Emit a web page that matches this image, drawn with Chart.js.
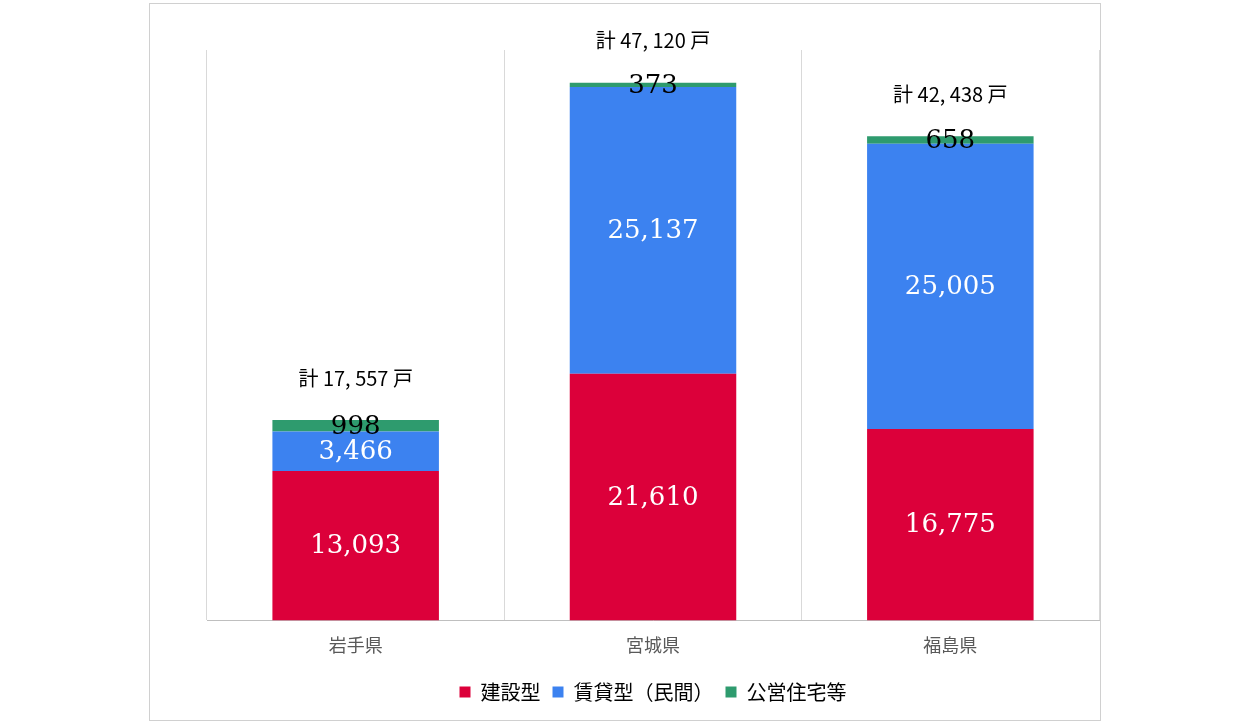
<!DOCTYPE html>
<html><head><meta charset="utf-8">
<script src="https://cdn.jsdelivr.net/npm/chart.js@4"></script>
<style>
body{margin:0;background:#fff;}
#box{position:absolute;left:149px;top:3px;width:950px;height:716px;border:1px solid #d0d0d0;}
</style></head><body>
<div id="box"><canvas id="c"></canvas></div>
<script>
const prefectures = ["岩手県", "宮城県", "福島県"];
const seriesNames = ["建設型", "賃貸型（民間）", "公営住宅等"];
const kensetsu = [13093, 21610, 16775];
const chintai = [3466, 25137, 25005];
const kouei = [998, 373, 658];
const totals = [17557, 47120, 42438];
const colors = ["#DC003A", "#3C82F0", "#2E9B6E"];

const fmt = v => v.toLocaleString("en-US");

const labelPlugin = {
  id: "labels",
  afterDatasetsDraw(chart) {
    const ctx = chart.ctx;
    ctx.save();
    ctx.textAlign = "center";
    ctx.textBaseline = "middle";
    chart.data.datasets.forEach((ds, i) => {
      chart.getDatasetMeta(i).data.forEach((bar, j) => {
        const y = (bar.y + bar.base) / 2;
        ctx.font = "26px 'DejaVu Serif', serif";
        ctx.fillStyle = i === 2 ? "#000" : "#fff";
        ctx.fillText(fmt(ds.data[j]), bar.x, y + 1);
      });
    });
    const top = chart.getDatasetMeta(2).data;
    ctx.font = "20px 'Noto Sans CJK JP', sans-serif";
    ctx.fillStyle = "#000";
    top.forEach((bar, j) => {
      ctx.fillText("計 " + totals[j].toLocaleString("en-US").replace(",", ", ") + " 戸", bar.x, bar.y - 42);
    });
    ctx.restore();
  }
};

new Chart(document.getElementById("c"), {
  type: "bar",
  data: {
    labels: prefectures,
    datasets: [
      { label: seriesNames[0], data: kensetsu, backgroundColor: colors[0] },
      { label: seriesNames[1], data: chintai, backgroundColor: colors[1] },
      { label: seriesNames[2], data: kouei, backgroundColor: colors[2] }
    ]
  },
  options: {
    responsive: true,
    maintainAspectRatio: false,
    animation: false,
    layout: { padding: { left: 57, right: 1, top: 46, bottom: 8 } },
    datasets: { bar: { categoryPercentage: 1, barPercentage: 0.56 } },
    scales: {
      x: {
        stacked: true,
        grid: { color: "#d9d9d9", lineWidth: 1, drawTicks: false },
        border: { color: "#bfbfbf" },
        ticks: { color: "#595959", padding: 14, font: { size: 18, family: "'Noto Sans CJK JP', sans-serif" } }
      },
      y: { stacked: true, display: false, min: 0, max: 50000 }
    },
    plugins: {
      tooltip: { enabled: false },
      legend: {
        position: "bottom",
        labels: {
          boxWidth: 11, boxHeight: 11, padding: 12, color: "#000",
          font: { size: 20, family: "'Noto Sans CJK JP', sans-serif" }
        }
      }
    }
  },
  plugins: [labelPlugin]
});
</script>
</body></html>
